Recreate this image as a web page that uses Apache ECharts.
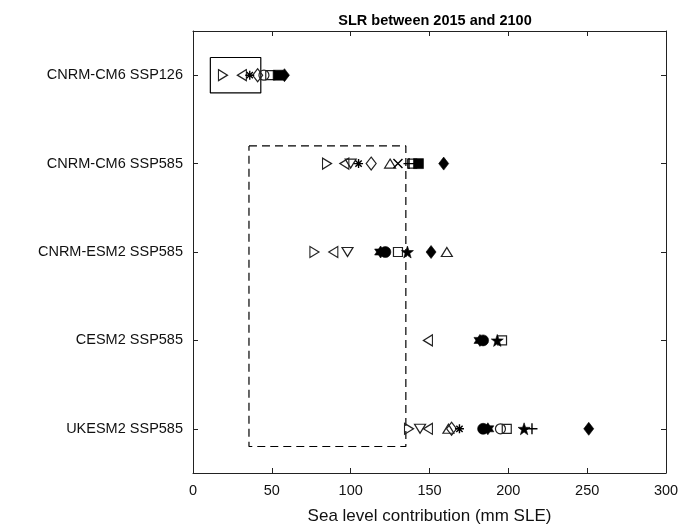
<!DOCTYPE html>
<html>
<head>
<meta charset="utf-8">
<script src="https://cdn.jsdelivr.net/npm/echarts@6/dist/echarts.min.js"></script>
<style>html,body{margin:0;padding:0;background:#fff}#c{width:684px;height:527px}</style>
</head>
<body>
<div id="c"></div>
<script>
// ---- data ----
const categories = ['CNRM-CM6 SSP126', 'CNRM-CM6 SSP585', 'CNRM-ESM2 SSP585', 'CESM2 SSP585', 'UKESM2 SSP585'];
const xTickValues = [0, 50, 100, 150, 200, 250, 300];

// one value per scenario row (null = no value for that row)
const triRight      = [19, 85, 77, null, 137];
const triLeft       = [31, 96, 89, 149, 149];
const triDown       = [null, 100, 98, null, 144];
const triUp         = [null, 125, 161, null, 162];
const asterisk      = [36, 105, null, null, 169];
const crossX        = [null, 130, null, null, null];
const diamondOpen   = [41, 113, null, null, 164];
const circleOpen    = [45, null, null, null, 195];
const squareOpen    = [49, 139, 130, 196, 199];
const squareFilled  = [54, 143, null, null, null];
const diamondFilled = [58, 159, 151, null, 251];
const circleFilled  = [null, null, 122, 184, 184];
const hexFilled     = [null, null, 119, 182, 187];
const starFilled    = [null, null, 136, 193, 210];
const plusMark      = [null, 137, null, null, 215];

// range boxes (x range in mm, y range in row units)
const solidBoxX = [11, 43];
const solidBoxY = [0.8, 1.2];
const dashedBoxX = [35.5, 135];
const dashedBoxY = [1.8, 5.2];

// ---- chart ----
const P = {
  triR: 'path://M0,0L10,5L0,10Z',
  triL: 'path://M10,0L0,5L10,10Z',
  triD: 'path://M0,0L10,0L5,10Z',
  triU: 'path://M5,0L10,10L0,10Z',
  ast: 'path://M5,0L5,10M0,5L10,5M1.5,1.5L8.5,8.5M8.5,1.5L1.5,8.5',
  x: 'path://M0,0L10,10M10,0L0,10',
  plus: 'path://M5,0L5,10M0,5L10,5',
  hex: 'path://M5,0L9.33,7.5L0.67,7.5Z M5,10L0.67,2.5L9.33,2.5Z',
  star: 'path://M5,0L6.18,3.38L9.76,3.46L6.9,5.62L7.94,9.05L5,7L2.06,9.05L3.1,5.62L0.24,3.46L3.82,3.38Z'
};

function pts(arr) {
  const out = [];
  arr.forEach((v, i) => { if (v !== null) out.push([v, i + 1]); });
  return out;
}
function sc(name, arr, symbol, size, filled, lineOnly) {
  return {
    name: name, type: 'scatter', xAxisIndex: 0, yAxisIndex: 1,
    data: pts(arr), symbol: symbol, symbolSize: size,
    silent: true,
    itemStyle: filled
      ? { color: '#000', borderColor: '#000', borderWidth: 0.6, opacity: 1 }
      : { color: 'rgba(0,0,0,0)', borderColor: lineOnly ? '#000' : '#222', borderWidth: lineOnly ? 1.4 : 1.2, opacity: 1 }
  };
}
function box(xs, ys, dashed) {
  return {
    type: 'line', xAxisIndex: 0, yAxisIndex: 1, silent: true,
    symbol: 'none', animation: false,
    data: [[xs[0], ys[0]], [xs[1], ys[0]], [xs[1], ys[1]], [xs[0], ys[1]], [xs[0], ys[0]]],
    lineStyle: { color: '#000', width: 1.2, type: dashed ? [8, 5] : 'solid' },
    z: 1
  };
}

const FONT = 'Liberation Sans, Arial, sans-serif';
const chart = echarts.init(document.getElementById('c'), null, { renderer: 'canvas' });
const axisTextStyle = { color: '#111', fontFamily: FONT, fontSize: 14.5 };
chart.setOption({
  animation: false,
  title: {
    text: 'SLR between 2015 and 2100', left: 430, top: 8, textAlign: 'center',
    textStyle: { fontFamily: FONT, fontSize: 14.5, fontWeight: 'bold', color: '#000' }
  },
  grid: { left: 193, right: 18, top: 31, bottom: 54, containLabel: false, outerBoundsMode: 'none' },
  xAxis: [
    {
      type: 'value', position: 'bottom', min: 0, max: 300, interval: 50,
      axisLine: { show: true, lineStyle: { color: '#222', width: 1 } },
      axisTick: { show: true, inside: true, length: 5, lineStyle: { color: '#222' } },
      splitLine: { show: false },
      axisLabel: Object.assign({ margin: 10, formatter: v => xTickValues.indexOf(v) >= 0 ? String(v) : '' }, axisTextStyle),
      name: 'Sea level contribution (mm SLE)', nameLocation: 'middle', nameGap: 35,
      nameTextStyle: { color: '#111', fontFamily: FONT, fontSize: 17 }
    },
    {
      type: 'value', position: 'top', min: 0, max: 300, interval: 50,
      axisLine: { show: true, lineStyle: { color: '#222', width: 1 } },
      axisTick: { show: true, inside: true, length: 5, lineStyle: { color: '#222' } },
      axisLabel: { show: false }, splitLine: { show: false }
    }
  ],
  yAxis: [
    {
      type: 'category', data: categories, inverse: true, position: 'left',
      boundaryGap: true,
      axisLine: { show: true, lineStyle: { color: '#222', width: 1 } },
      axisTick: { show: true, inside: true, length: 5, alignWithLabel: true, lineStyle: { color: '#222' } },
      axisLabel: Object.assign({ margin: 10 }, axisTextStyle),
      splitLine: { show: false }
    },
    {
      type: 'value', min: 0.5, max: 5.5, inverse: true, show: false
    },
    {
      type: 'category', data: categories, inverse: true, position: 'right',
      boundaryGap: true,
      axisLine: { show: true, lineStyle: { color: '#222', width: 1 } },
      axisTick: { show: true, inside: true, length: 5, alignWithLabel: true, lineStyle: { color: '#222' } },
      axisLabel: { show: false }, splitLine: { show: false }
    }
  ],
  series: [
    box(solidBoxX, solidBoxY, false),
    box(dashedBoxX, dashedBoxY, true),
    sc('triRight', triRight, P.triR, [9, 11], false),
    sc('triLeft', triLeft, P.triL, [9, 11], false),
    sc('triDown', triDown, P.triD, [11, 9], false),
    sc('triUp', triUp, P.triU, [11, 9], false),
    sc('diamondOpen', diamondOpen, 'diamond', [10, 13], false),
    sc('circleOpen', circleOpen, 'circle', 10, false),
    sc('squareOpen', squareOpen, 'rect', 9, false),
    sc('asterisk', asterisk, P.ast, 9, false, true),
    sc('crossX', crossX, P.x, 9, false, true),
    sc('plus', plusMark, P.plus, 11, false, true),
    sc('squareFilled', squareFilled, 'rect', 10, true),
    sc('diamondFilled', diamondFilled, 'diamond', [10, 13], true),
    sc('circleFilled', circleFilled, 'circle', 11, true),
    sc('hexFilled', hexFilled, P.hex, 12, true),
    sc('starFilled', starFilled, P.star, 12, true)
  ]
});
</script>
</body>
</html>
